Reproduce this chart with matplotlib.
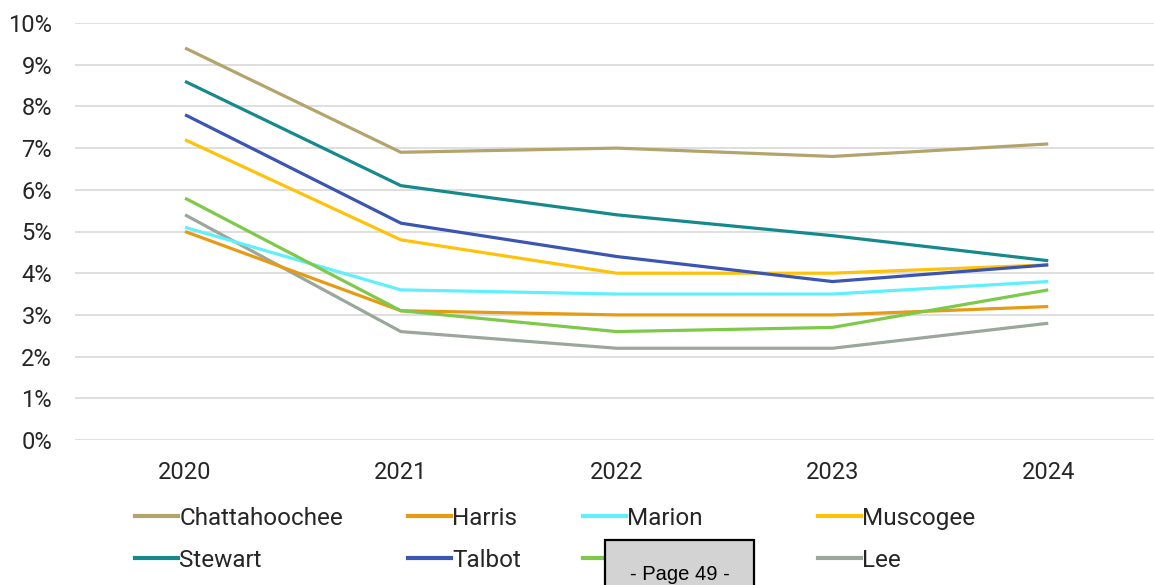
import matplotlib.pyplot as plt
from matplotlib.lines import Line2D
from matplotlib.patches import Rectangle
from matplotlib.ticker import PercentFormatter

plt.rcParams['font.family'] = ['Roboto', 'DejaVu Sans']

years = ['2020', '2021', '2022', '2023', '2024']

chattahoochee = [9.4, 6.9, 7.0, 6.8, 7.1]
harris = [5.0, 3.1, 3.0, 3.0, 3.2]
marion = [5.1, 3.6, 3.5, 3.5, 3.8]
muscogee = [7.2, 4.8, 4.0, 4.0, 4.2]
stewart = [8.6, 6.1, 5.4, 4.9, 4.3]
talbot = [7.8, 5.2, 4.4, 3.8, 4.2]
quitman = [5.8, 3.1, 2.6, 2.7, 3.6]
lee = [5.4, 2.6, 2.2, 2.2, 2.8]

# legend order: two rows of four, read column by column
series = [
    ('Chattahoochee', chattahoochee, '#b3a36c'),
    ('Stewart', stewart, '#16898d'),
    ('Harris', harris, '#e69b14'),
    ('Talbot', talbot, '#3b55b2'),
    ('Marion', marion, '#5ff0fb'),
    ('Quitman', quitman, '#7ec94a'),
    ('Muscogee', muscogee, '#ffc20a'),
    ('Lee', lee, '#9ba79b'),
]

# drawing order (top layers last)
draw_order = ['Lee', 'Harris', 'Marion', 'Quitman', 'Muscogee', 'Talbot',
              'Stewart', 'Chattahoochee']

fig = plt.figure(figsize=(11.54, 5.85), dpi=100)
ax = fig.add_axes([75 / 1154, 1 - 440 / 585, 1079 / 1154, 417 / 585])

x = range(len(years))
lookup = {name: (vals, color) for name, vals, color in series}
for name in draw_order:
    vals, color = lookup[name]
    ax.plot(x, vals, color=color, linewidth=2.3, solid_capstyle='butt')

ax.set_xlim(-0.51, 4.49)
ax.set_ylim(0, 10)
ax.set_yticks(range(0, 11))
ax.yaxis.set_major_formatter(PercentFormatter(decimals=0))
ax.set_xticks(list(x))
ax.set_xticklabels(years)
ax.grid(axis='y', color='#dcdcdc', linewidth=1.3)
ax.set_axisbelow(True)
for side in ax.spines.values():
    side.set_visible(False)
ax.tick_params(length=0, labelsize=17, colors='#262626')
ax.tick_params(axis='y', pad=16.5)
ax.tick_params(axis='x', pad=15)

# legend: one small legend per column so the columns sit where they should
col_x = [135, 408, 583, 818]
for i, cx in enumerate(col_x):
    handles = []
    labels = []
    for name, vals, color in series[2 * i:2 * i + 2]:
        handles.append(Line2D([], [], color=color, linewidth=3))
        labels.append(name)
    fig.legend(
        handles,
        labels,
        loc='upper left',
        bbox_to_anchor=(cx / 1154, 1 - 507 / 585),
        frameon=False,
        fontsize=17.5,
        handlelength=1.75,
        handletextpad=0.08,
        labelspacing=0.77,
        borderpad=0,
        borderaxespad=0,
        labelcolor='#262626',
    )

# page stamp covering part of the legend
fig.patches.append(Rectangle((605 / 1154, -0.05), 149 / 1154, 0.05 + 45 / 585,
                             transform=fig.transFigure, facecolor='#d3d3d3',
                             edgecolor='black', linewidth=1.6, zorder=10))
fig.text(680 / 1154, 1 - 574 / 585, '- Page 49 -', ha='center', va='center',
         fontsize=14.5, family='Liberation Sans', color='black', zorder=11)

fig.savefig('out.png', dpi=100)
